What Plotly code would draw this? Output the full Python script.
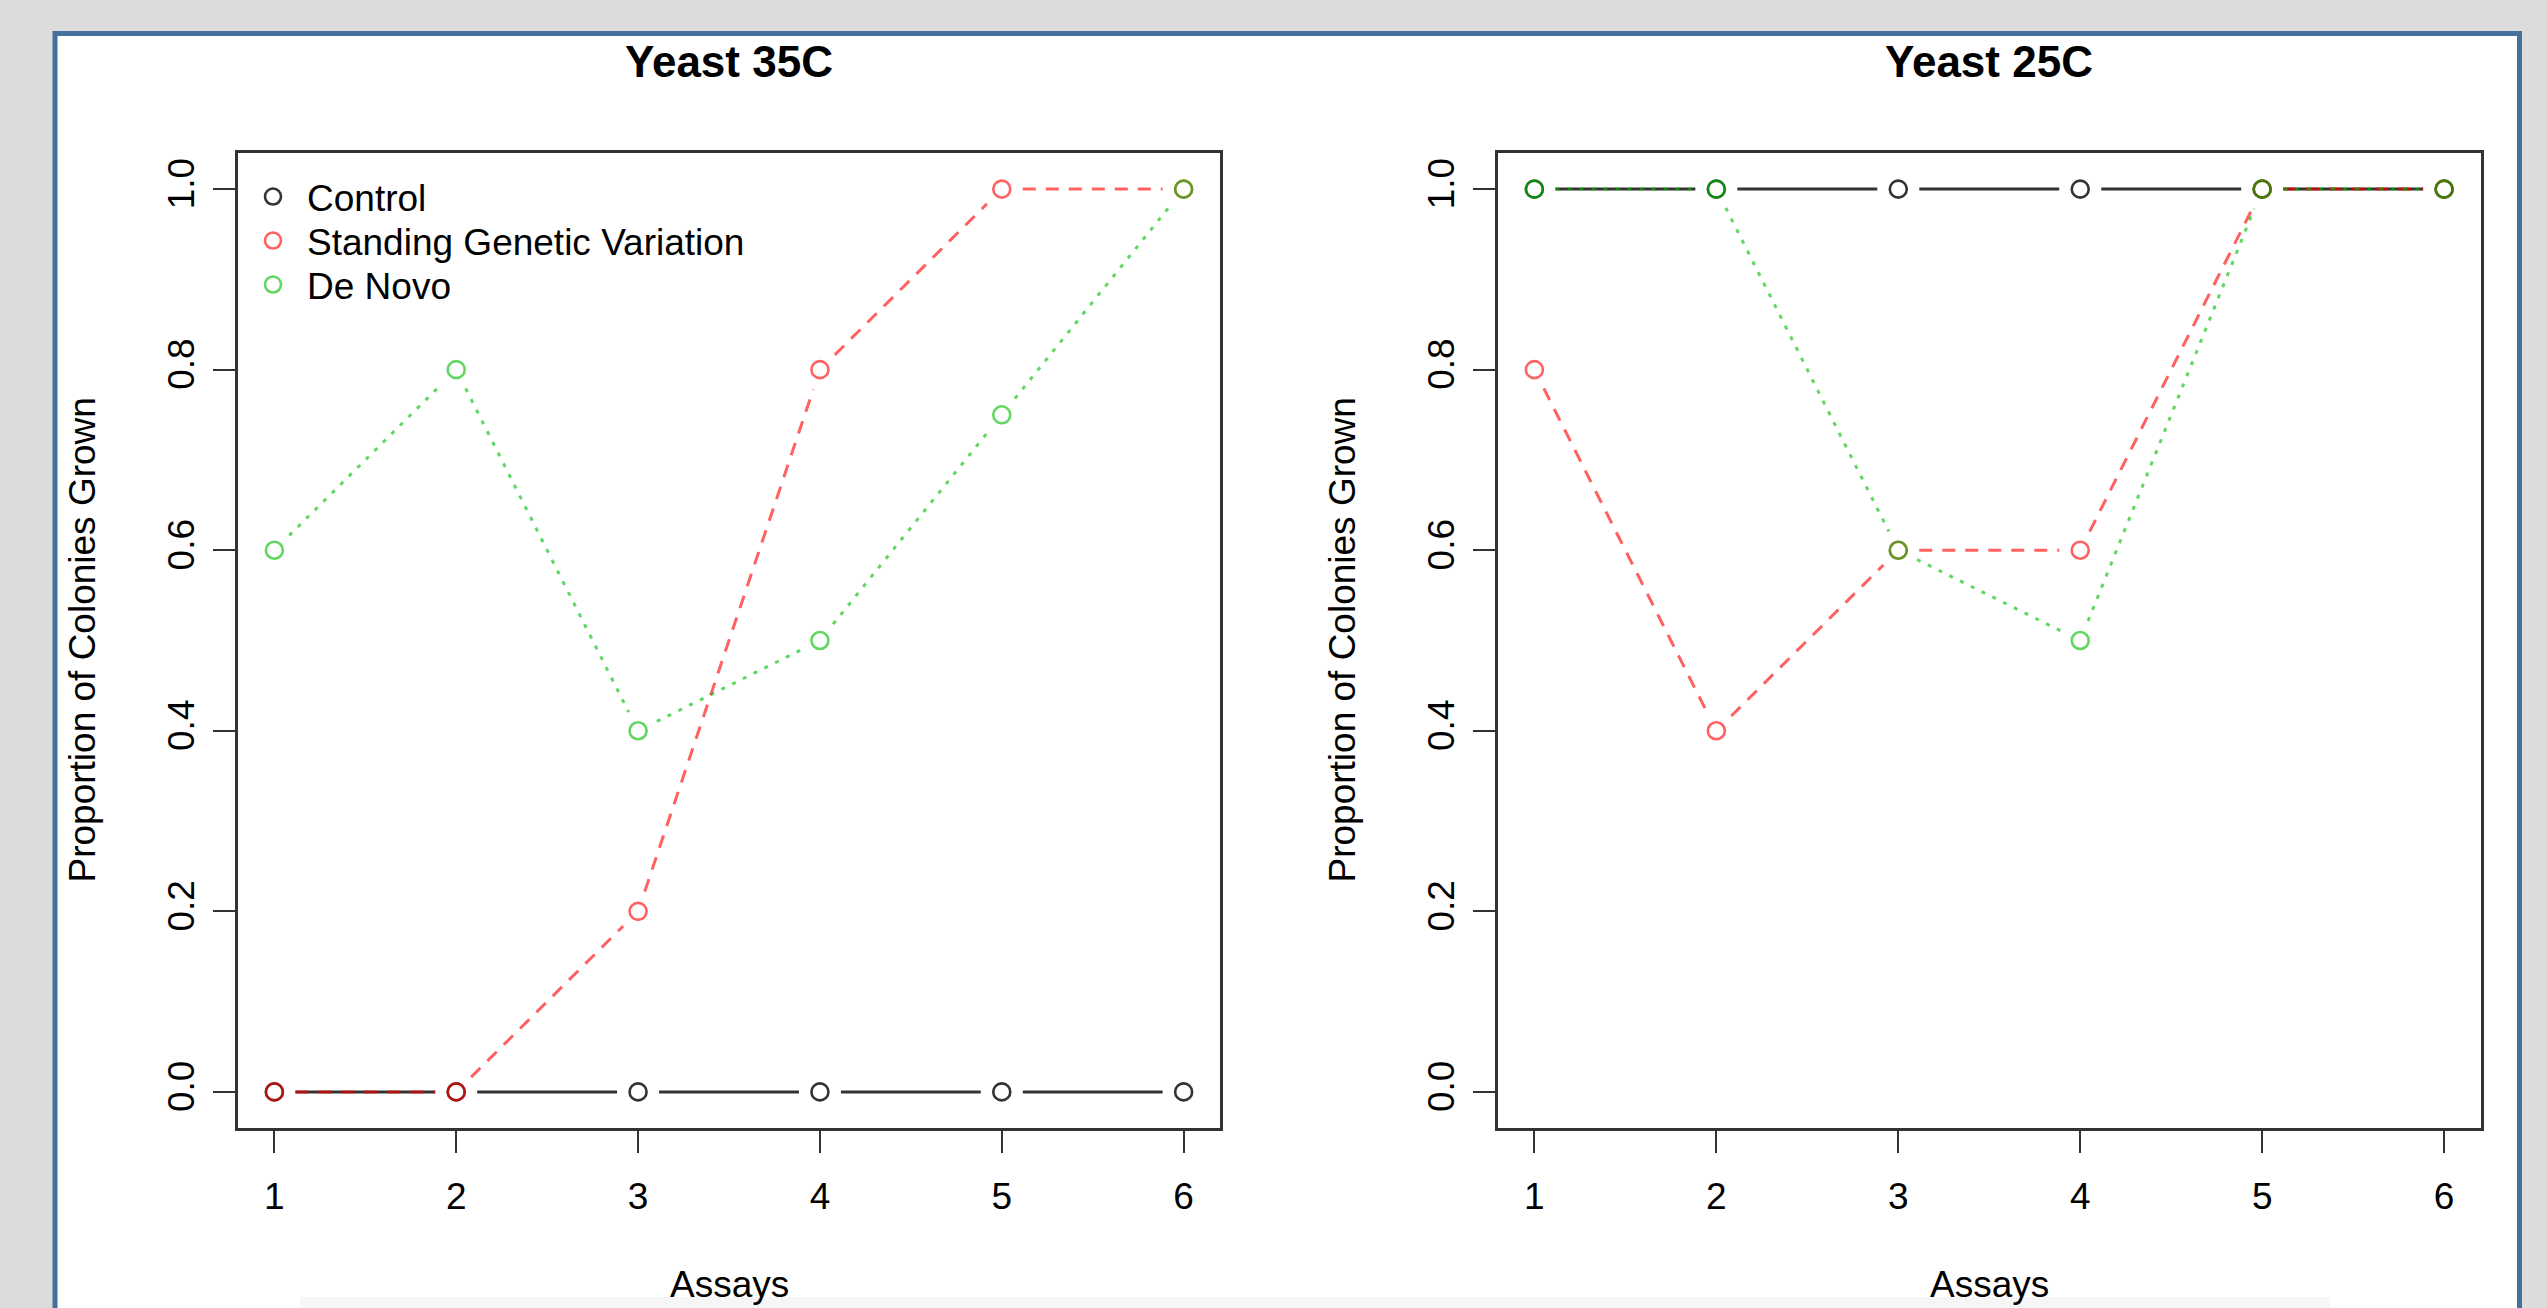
import math
import plotly.graph_objects as go

# ---------------- data ----------------
assays = [1, 2, 3, 4, 5, 6]
series_names = ["Control", "Standing Genetic Variation", "De Novo"]
panel_titles = ["Yeast 35C", "Yeast 25C"]

control_35 = [0, 0, 0, 0, 0, 0]
sgv_35 = [0, 0, 0.2, 0.8, 1.0, 1.0]
denovo_35 = [0.6, 0.8, 0.4, 0.5, 0.75, 1.0]

control_25 = [1, 1, 1, 1, 1, 1]
sgv_25 = [0.8, 0.4, 0.6, 0.6, 1.0, 1.0]
denovo_25 = [1, 1, 0.6, 0.5, 1, 1]

y_ticks = [0.0, 0.2, 0.4, 0.6, 0.8, 1.0]
x_label = "Assays"
y_label = "Proportion of Colonies Grown"

# ---------------- styling ----------------
W, H = 2547, 1308
FONT = "Liberation Sans, Arial, Helvetica, sans-serif"
colors = ["rgba(0,0,0,0.8)", "rgba(255,0,0,0.62)", "rgba(0,190,0,0.62)"]
dashes = ["solid", "13px,10px", "4px,8px"]
x_range = [0.8, 6.2]
y_range = [-0.04, 1.04]

# plot area pixel boxes (left, right), shared top/bottom
px_top, px_bot = 153, 1128
panels_px = [(238, 1220), (1498, 2480.5)]
GAP = 21  # px gap around points (R type="b")
legend_rows_px = [199, 243, 287]
legend_ids = ["legend", "legend2", "legend3"]

def pdx(px):
    return px / W

def pdy(py):
    return 1 - py / H

fig = go.Figure()

panel_data = [
    [control_35, sgv_35, denovo_35],
    [control_25, sgv_25, denovo_25],
]

for p, (left, right) in enumerate(panels_px):
    xa = "x" if p == 0 else "x2"
    ya = "y" if p == 0 else "y2"
    sx = (right - left) / (x_range[1] - x_range[0])
    sy = (px_bot - px_top) / (y_range[1] - y_range[0])
    for s, ys in enumerate(panel_data[p]):
        # gapped line segments, derived from the data
        lx, ly = [], []
        for i in range(len(assays) - 1):
            x0, y0, x1, y1 = assays[i], ys[i], assays[i + 1], ys[i + 1]
            dxp, dyp = (x1 - x0) * sx, (y1 - y0) * sy
            L = math.hypot(dxp, dyp)
            if L <= 2 * GAP:
                continue
            f = GAP / L
            lx += [x0 + (x1 - x0) * f, x1 - (x1 - x0) * f, None]
            ly += [y0 + (y1 - y0) * f, y1 - (y1 - y0) * f, None]
        fig.add_trace(go.Scatter(
            x=lx, y=ly, mode="lines", xaxis=xa, yaxis=ya,
            line=dict(color=colors[s], width=3, dash=dashes[s]),
            showlegend=False, hoverinfo="skip", connectgaps=False,
        ))
        fig.add_trace(go.Scatter(
            x=assays, y=ys, mode="markers", xaxis=xa, yaxis=ya,
            name=series_names[s], showlegend=(p == 0), legend=legend_ids[s],
            marker=dict(symbol="circle-open", size=17,
                        color=colors[s], line=dict(width=2.6, color=colors[s])),
        ))

axis_common = dict(
    showgrid=False, zeroline=False, showline=True, mirror=True,
    linecolor="#333333", linewidth=2.5,
    ticks="outside", ticklen=22, tickwidth=2.2, tickcolor="#333333",
    tickfont=dict(family=FONT, size=37, color="black"),
)

for p, (left, right) in enumerate(panels_px):
    sfx = "" if p == 0 else "2"
    fig.update_layout(**{
        "xaxis" + sfx: dict(
            axis_common, domain=[pdx(left), pdx(right)], range=x_range,
            tickvals=assays, ticktext=[str(a) for a in assays],
            anchor="y" + sfx, ticklabelstandoff=12,
        ),
        "yaxis" + sfx: dict(
            axis_common, domain=[pdy(px_bot), pdy(px_top)], range=y_range,
            tickvals=y_ticks, ticktext=[f"{v:.1f}" for v in y_ticks],
            tickangle=-90, anchor="x" + sfx, ticklabelstandoff=4,
        ),
    })

annotations = []
for p, (left, right) in enumerate(panels_px):
    cx = (left + right) / 2
    annotations.append(dict(
        text=panel_titles[p], x=pdx(cx), y=pdy(61), xref="paper", yref="paper",
        showarrow=False, xanchor="center", yanchor="middle",
        font=dict(family=FONT, size=44, color="black", weight=700),
    ))
    annotations.append(dict(
        text=x_label, x=pdx(cx), y=pdy(1284), xref="paper", yref="paper",
        showarrow=False, xanchor="center", yanchor="middle",
        font=dict(family=FONT, size=37, color="black"),
    ))
    annotations.append(dict(
        text=y_label, x=pdx(left - 156), y=pdy((px_top + px_bot) / 2),
        xref="paper", yref="paper", textangle=-90,
        showarrow=False, xanchor="center", yanchor="middle",
        font=dict(family=FONT, size=37, color="black"),
    ))

shapes = [
    dict(type="rect", xref="paper", yref="paper",
         x0=pdx(55), x1=pdx(2519.5), y0=pdy(1330), y1=pdy(33.5),
         fillcolor="white", line=dict(color="#46709c", width=5), layer="below"),
    dict(type="rect", xref="paper", yref="paper",
         x0=pdx(300), x1=pdx(2330), y0=pdy(1308), y1=pdy(1297),
         fillcolor="#f6f6f6", line=dict(width=0), layer="below"),
]

legend_style = dict(
    xanchor="left", yanchor="top",
    bgcolor="rgba(0,0,0,0)", borderwidth=0,
    font=dict(family=FONT, size=37, color="black"),
    itemwidth=58, tracegroupgap=0,
)
legend_layout = {}
for lid, row in zip(legend_ids, legend_rows_px):
    legend_layout[lid] = dict(legend_style, x=pdx(239), y=pdy(row - 33))

fig.update_layout(
    width=W, height=H,
    margin=dict(l=0, r=0, t=0, b=0),
    paper_bgcolor="#dcdcdc", plot_bgcolor="rgba(0,0,0,0)",
    annotations=annotations, shapes=shapes,
    showlegend=True,
    **legend_layout,
)

fig.write_html(
    "out.html",
    config={"displayModeBar": False},
    post_script="document.body.style.margin='0';document.body.style.overflow='hidden';",
)
